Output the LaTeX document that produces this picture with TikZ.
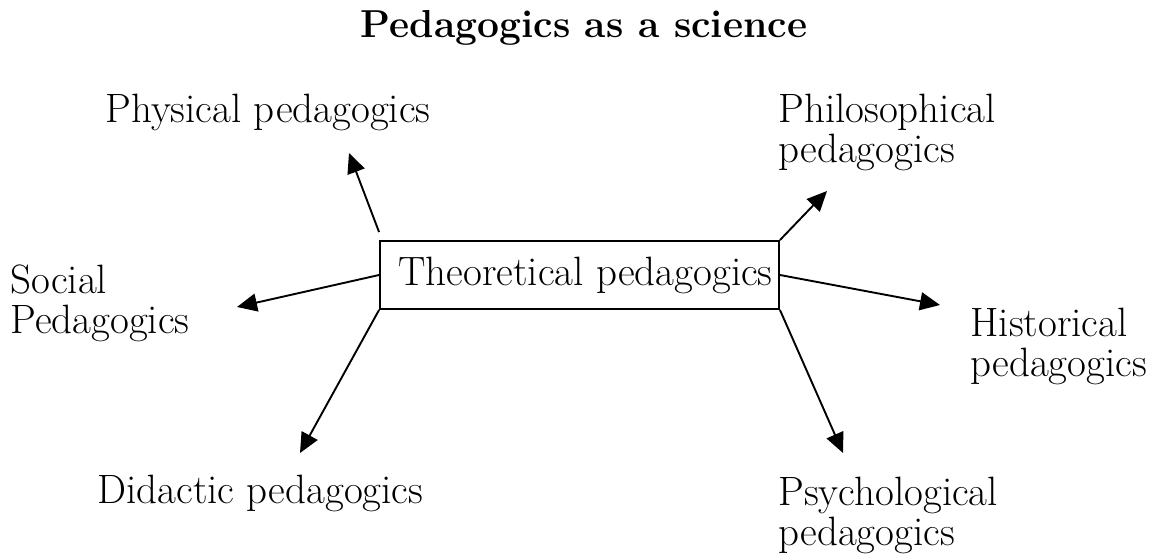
\documentclass[tikz,border=0pt]{standalone}
\usepackage{fontspec}
\usetikzlibrary{arrows.meta}

\begin{document}
\begin{tikzpicture}[x=0.5pt,y=-0.5pt]
        \tikzstyle{branch}=[anchor=north west,inner sep=0pt,align=left,font=\fontsize{20.5}{20}\selectfont]
        \tikzstyle{link}=[line width=0.95pt,-{Triangle[length=10pt,width=9pt]}]
  \useasboundingbox (0,0) rectangle (1159,556);
  \node[anchor=base,inner sep=0pt,font=\fontsize{19.5}{20}\selectfont\bfseries] (S) at (584,38) {Pedagogics as a science};
  \node[draw,line width=0.95pt,minimum width=199.5pt,minimum height=34pt,inner sep=0pt,font=\fontsize{20.5}{20}\selectfont] (T) at (579.5,275) {\hspace{6pt}Theoretical pedagogics};
  \node[branch] (B_1) at (105,93.5)  {Physical pedagogics};
  \node[branch] (B_2) at (778,93.5)  {Philosophical\\pedagogics};
  \node[branch] (B_3) at (10,264.5)  {Social\\Pedagogics};
  \node[branch] (B_4) at (970,307.5) {Historical\\pedagogics};
  \node[branch] (B_5) at (97,474.5)  {Didactic pedagogics};
  \node[branch] (B_6) at (778,476.5) {Psychological\\pedagogics};
  \coordinate (A_1) at (349,153);
  \coordinate (A_2) at (827,191);
  \coordinate (A_3) at (237,307);
  \coordinate (A_4) at (940,305);
  \coordinate (A_5) at (300,453);
  \coordinate (A_6) at (843,453);
  \draw[link] ([yshift=4pt]T.north west) -- (A_1);
  \draw[link] (T.north east) -- (A_2);
  \draw[link] (T.west) -- (A_3);
  \draw[link] (T.east) -- (A_4);
  \draw[link] (T.south west) -- (A_5);
  \draw[link] (T.south east) -- (A_6);
    \end{tikzpicture}
\end{document}
